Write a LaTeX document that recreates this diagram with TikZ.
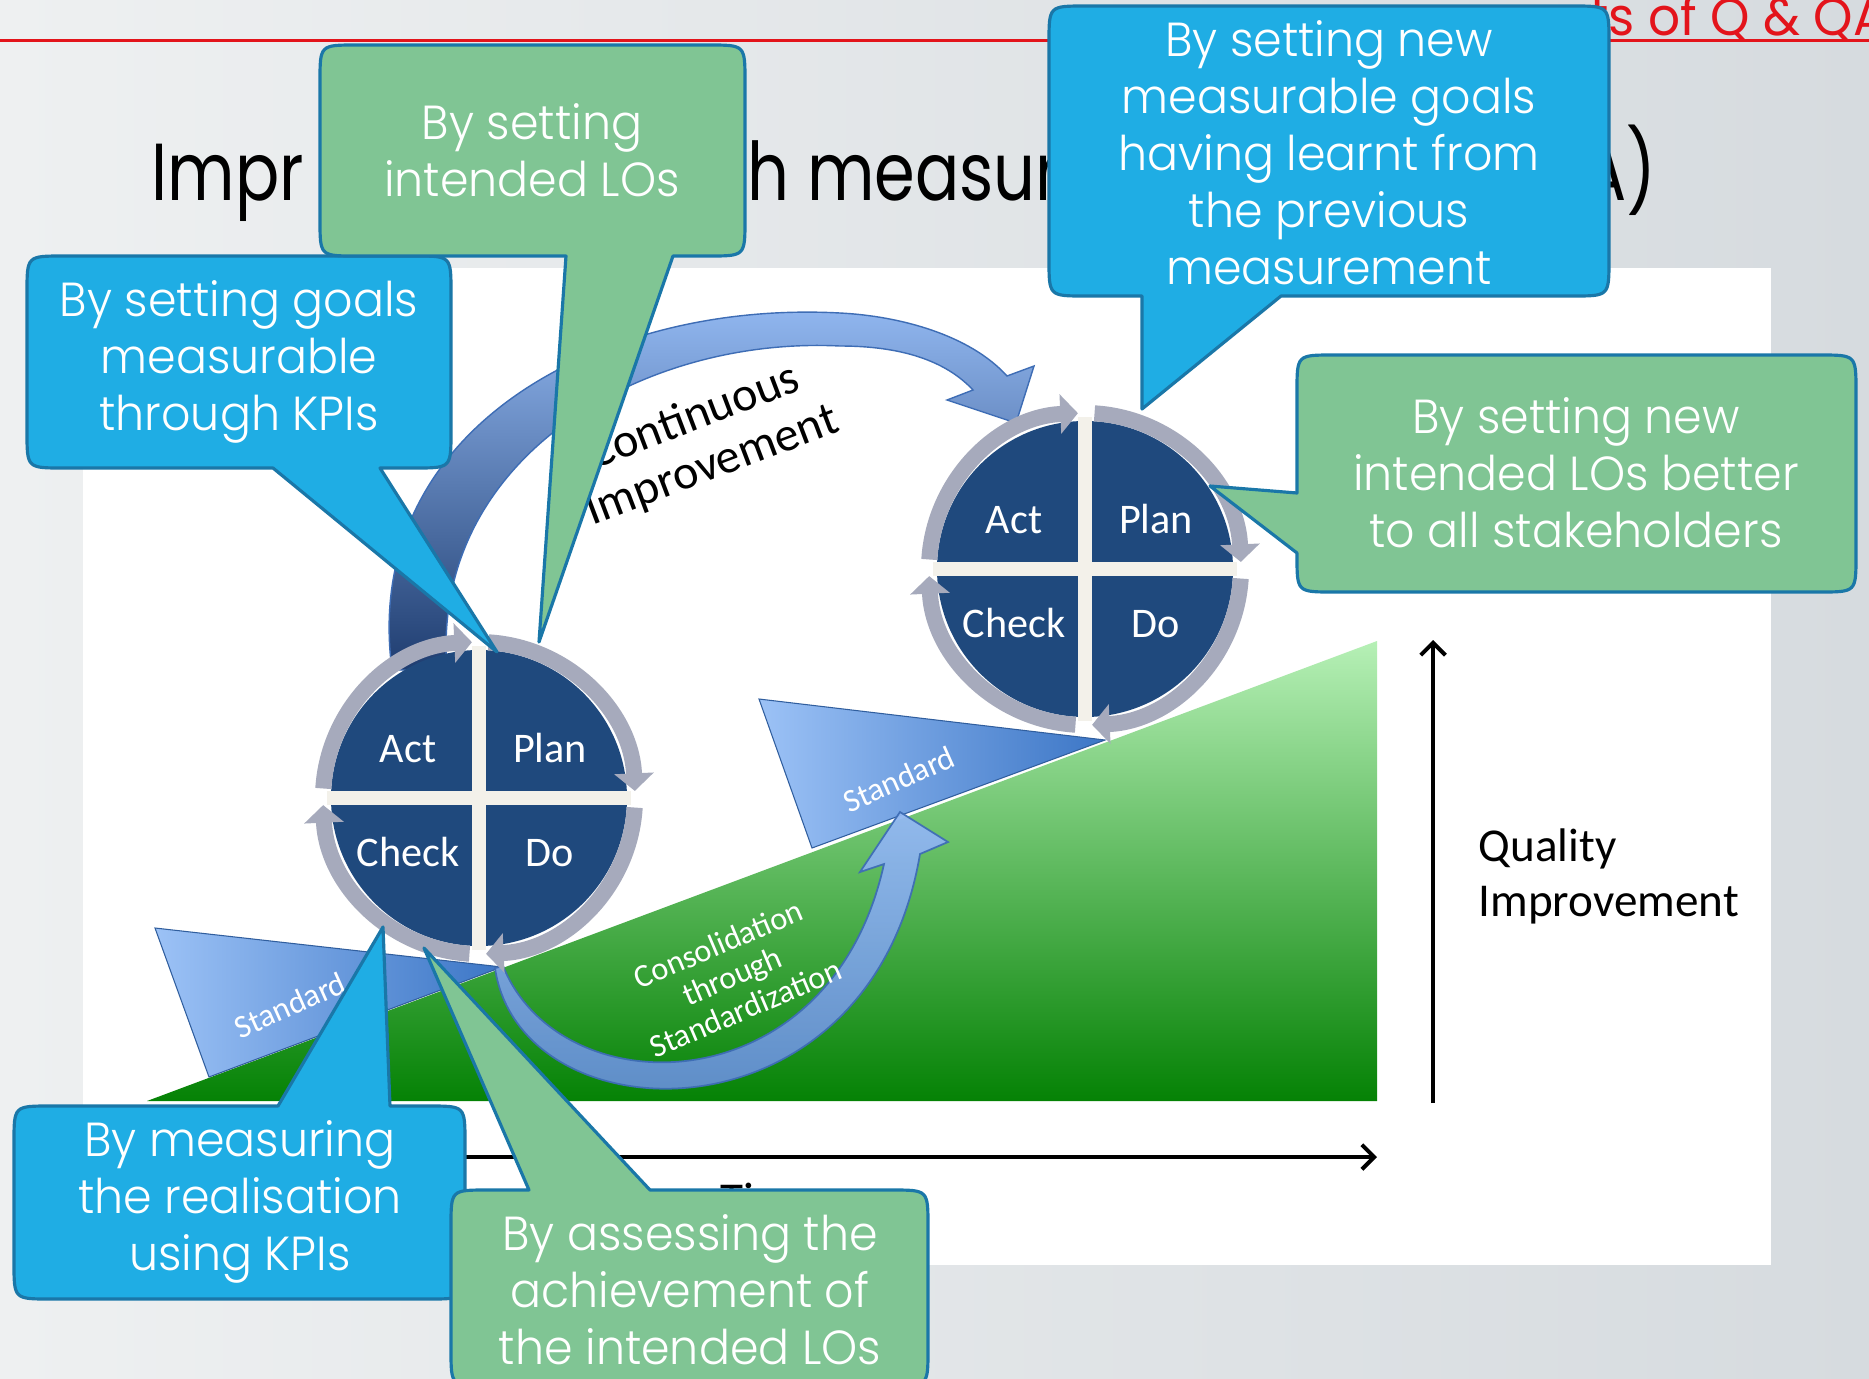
\documentclass[tikz,border=0pt]{standalone}
\usepackage{fontspec}
\IfFontExistsTF{Poppins Light}
  {\setmainfont{Poppins Light}[FakeStretch=0.96]}
  {\setmainfont{Poppins}[FakeStretch=0.96]}
\newfontfamily\titlefont{Poppins}[FakeStretch=0.81]
\newfontfamily\headfont{Poppins}[FakeStretch=0.95]
\newfontfamily\calibrifont{Carlito}
\usetikzlibrary{arrows.meta}

\definecolor{slideL}{HTML}{EEF0F1}
\definecolor{slideR}{HTML}{D6DBDF}
\definecolor{hdrred}{HTML}{E3141B}
\definecolor{cblue}{HTML}{1FADE4}
\definecolor{cgreen}{HTML}{80C594}
\definecolor{cedge}{HTML}{1A77A8}
\definecolor{navy}{HTML}{1F497D}
\definecolor{ringgray}{HTML}{A6AABC}
\definecolor{gapcream}{HTML}{F3F1EA}
\definecolor{rampTop}{HTML}{B6F0B6}
\definecolor{rampBot}{HTML}{058205}
\definecolor{wedgeL}{HTML}{9CC2F6}
\definecolor{wedgeD}{HTML}{3C76C6}
\definecolor{arrLight}{HTML}{93B9F2}
\definecolor{arrMid}{HTML}{5A86CC}
\definecolor{arrDark}{HTML}{1F3D70}
\definecolor{arrEdge}{HTML}{3E6DB5}

\tikzset{
  ringarc/.style={draw=ringgray, line width=4.55pt, line cap=butt,
    -{Triangle[length=5pt, width=11pt]}},
  pdcalabel/.style={text=white, anchor=base, inner sep=0pt,
    font=\calibrifont\fontsize{12pt}{14pt}\selectfont},
  pics/pdca/.style={code={
    \fill[navy] (0,0) circle[radius=148];
    \draw[gapcream, line width=4pt] (-152,0) -- (152,0) (0,-152) -- (0,152);
    \foreach \a in {0,90,180,270}
      \draw[ringarc] (\a+3.5:156) arc[start angle=\a+3.5, end angle=\a+87.4, radius=156];
    \node[pdcalabel] (-act)   at (-71,-36) {Act};
    \node[pdcalabel] (-plan)  at (71,-36)  {Plan};
    \node[pdcalabel] (-check) at (-71,68)  {Check};
    \node[pdcalabel] (-do)    at (71,68)   {Do};
  }},
  bubble/.style={draw=cedge, line width=0.9pt, line join=round},
  bubbletext/.style={align=center, text=white, inner sep=0pt,
    font=\fontsize{13.6pt}{16.2pt}\selectfont},
  titletext/.style={inner sep=0pt, font=\titlefont\fontsize{23pt}{27pt}\selectfont},
  stdlabel/.style={text=white, inner sep=0pt,
    font=\calibrifont\fontsize{9.2pt}{9.9pt}\selectfont},
  axis/.style={line width=1.15pt, -{Straight Barb[length=3.5pt, width=7pt]}},
  darklabel/.style={text=black, inner sep=0pt,
    font=\calibrifont\fontsize{13.4pt}{15.6pt}\selectfont},
}

\begin{document}
\begin{tikzpicture}[x=0.01cm, y=-0.01cm]
\useasboundingbox (0,0) rectangle (1869,1378);

% slide background and header
\shade[left color=slideL, right color=slideR] (0,0) rectangle (1869,1378);
\draw[hdrred, line width=0.85pt] (0,40) -- (1869,40);
\node[anchor=base west, text=hdrred, inner sep=0pt,
      font=\headfont\fontsize{15pt}{18pt}\selectfont] (hdr) at (1590,35) {ts of Q \& QA};

% title fragments
\node[titletext, anchor=base west] (t1) at (151,200) {Impr};
\node[titletext, anchor=base west] (t2) at (747,200) {h measur};
\node[titletext, anchor=base east] (t3) at (1657,200) {A)};

% diagram canvas
\fill[white] (83,268) rectangle (1771,1265);

% quality ramp
\shade[top color=rampTop, bottom color=rampBot] (147,1101) -- (1377,641) -- (1377,1101) -- cycle;

% axes
\coordinate (tStart) at (300,1157);
\coordinate (tEnd) at (1377,1157);
\draw[axis] (tStart) -- (tEnd);
\node[darklabel, anchor=base west] (time) at (720,1215) {Time};
\coordinate (qStart) at (1433,1103);
\coordinate (qEnd) at (1433,640);
\draw[axis] (qStart) -- (qEnd);
\node[darklabel, anchor=west, align=left] (qi) at (1478,876) {Quality\\Improvement};

% standard wedges
\shade[left color=wedgeL, right color=wedgeD, draw=wedgeD!80!black, line width=0.3pt]
  (155,928) -- (502,967) -- (209,1077) -- cycle;
\node[stdlabel, rotate=24] (stdL) at (290,1005) {Standard};
\shade[left color=wedgeL, right color=wedgeD, draw=wedgeD!80!black, line width=0.3pt]
  (759,699) -- (1105,740) -- (812,848) -- cycle;
\node[stdlabel, rotate=24] (stdR) at (899,779) {Standard};

% consolidation arrow
\shade[top color=arrLight, bottom color=arrMid, draw=arrEdge, line width=0.5pt, opacity=0.95]
  (495,968) .. controls (520,1140) and (870,1150) .. (920,854)
  -- (948,842) -- (900,812) -- (860,872) -- (884,864)
  .. controls (830,1108) and (560,1108) .. (503,966) -- cycle;
\node[stdlabel, rotate=23, align=center] (cons) at (732,976) {Consolidation\\through\\Standardization};

% continuous improvement arrow
\shade[top color=arrLight, middle color=arrMid, bottom color=arrDark, draw=arrEdge, line width=0.4pt]
  (392,670) .. controls (360,430) and (600,300) .. (840,313)
  .. controls (900,316) and (970,335) .. (1007,376)
  -- (1034,366) -- (1016,423) -- (947,400) -- (973,390)
  .. controls (945,360) and (900,346) .. (840,346)
  .. controls (640,336) and (430,460) .. (447,670) -- cycle;
\node[text=black, inner sep=0pt, align=center, rotate=20.8,
      font=\calibrifont\fontsize{13.7pt}{14.8pt}\selectfont] (ci) at (703,442) {Continuous\\Improvement};

% PDCA wheels
\pic (L) at (479,798) {pdca};
\pic (R) at (1085,569) {pdca};

% callout: measuring the realisation
\path[bubble, fill=cblue] (278,1106) -- (383,927) -- (390,1106) -- (429,1106)
  .. controls (465,1106) .. (465,1142) -- (465,1263) .. controls (465,1299) .. (429,1299)
  -- (50,1299) .. controls (14,1299) .. (14,1263) -- (14,1142) .. controls (14,1106) .. (50,1106) -- cycle;
\node[bubbletext] (cE) at (240,1202) {By measuring\\the realisation\\using KPIs};

% callout: assessing the achievement
\path[bubble, fill=cgreen] (529,1190) -- (424,948) -- (650,1190) -- (892,1190)
  .. controls (928,1190) .. (928,1226) -- (928,1350) .. controls (928,1386) .. (892,1386)
  -- (487,1386) .. controls (451,1386) .. (451,1350) -- (451,1226) .. controls (451,1190) .. (487,1190) -- cycle;
\node[bubbletext] (cF) at (690,1290) {By assessing the\\achievement of\\the intended LOs};

% callout: goals measurable through KPIs
\path[bubble, fill=cblue] (273,468) -- (63,468) .. controls (27,468) .. (27,432)
  -- (27,292) .. controls (27,256) .. (63,256) -- (415,256) .. controls (451,256) .. (451,292)
  -- (451,432) .. controls (451,468) .. (415,468) -- (380,468) -- (497,652) -- cycle;
\node[bubbletext] (cB) at (239,362) {By setting goals\\measurable\\through KPIs};

% callout: intended LOs
\path[bubble, fill=cgreen] (566,256) -- (356,256) .. controls (320,256) .. (320,220)
  -- (320,81) .. controls (320,45) .. (356,45) -- (709,45) .. controls (745,45) .. (745,81)
  -- (745,220) .. controls (745,256) .. (709,256) -- (673,256) -- (539,642) -- cycle;
\node[bubbletext] (cA) at (532,150) {By setting\\intended LOs};

% callout: new measurable goals
\path[bubble, fill=cblue] (1142,296) -- (1085,296) .. controls (1049,296) .. (1049,260)
  -- (1049,42) .. controls (1049,6) .. (1085,6) -- (1573,6) .. controls (1609,6) .. (1609,42)
  -- (1609,260) .. controls (1609,296) .. (1573,296) -- (1281,296) -- (1142,409) -- cycle;
\node[bubbletext] (cC) at (1329,153) {By setting new\\measurable goals\\having learnt from\\the previous\\measurement};

% callout: new intended LOs
\path[bubble, fill=cgreen] (1297,493) -- (1297,391) .. controls (1297,355) .. (1333,355)
  -- (1820,355) .. controls (1856,355) .. (1856,391) -- (1856,556) .. controls (1856,592) .. (1820,592)
  -- (1333,592) .. controls (1297,592) .. (1297,556) -- (1297,553) -- (1210,486) -- cycle;
\node[bubbletext] (cD) at (1576,473) {By setting new\\intended LOs better\\to all stakeholders};

\end{tikzpicture}
\end{document}
